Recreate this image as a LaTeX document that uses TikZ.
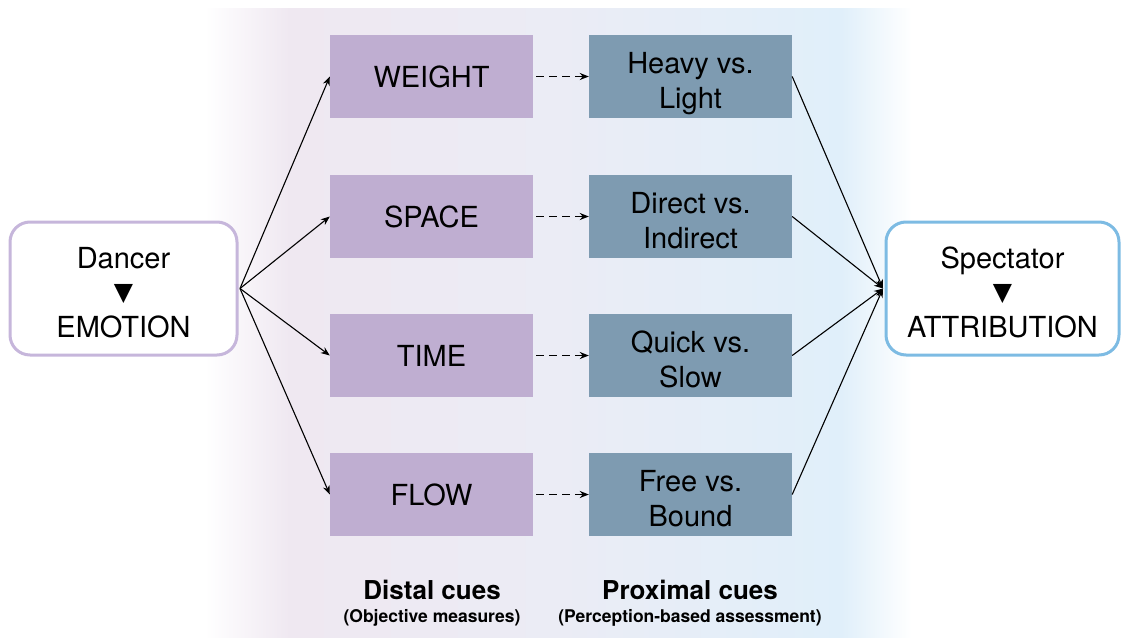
\documentclass[tikz,border=0pt]{standalone}
\usepackage{fontspec}
\setmainfont{TeX Gyre Heros}
\newfontfamily\dvfont{DejaVu Sans}
\usetikzlibrary{arrows.meta}
\definecolor{distalfill}{HTML}{BFAED1}
\definecolor{proxfill}{HTML}{7E9BB1}
\definecolor{leftborder}{HTML}{C6B6DB}
\definecolor{rightborder}{HTML}{7DBBE3}
\definecolor{bgA}{HTML}{EFE8F1}
\definecolor{bgB}{HTML}{EBECF5}
\definecolor{bgC}{HTML}{E0EFFA}
\pgfdeclarehorizontalshading{bgshade}{100bp}{color(0bp)=(white); color(25bp)=(white); color(31bp)=(bgA); color(50bp)=(bgB); color(70bp)=(bgC); color(75bp)=(white); color(100bp)=(white)}
\tikzset{
  base/.style={font=\fontsize{29}{35}\selectfont, align=center, text=black, inner sep=0pt},
  distal/.style={base, fill=distalfill, minimum width=203pt, minimum height=83pt},
  prox/.style={base, fill=proxfill, minimum width=203pt, minimum height=83pt},
  endbox/.style={base, draw, line width=3pt, fill=white, rounded corners=20pt, minimum height=133pt},
  conn/.style={line width=1.1pt, -{Stealth[length=9pt,width=7pt]}},
  dconn/.style={line width=1.4pt, dash pattern=on 8pt off 5pt, -{Stealth[length=9pt,width=7pt]}},
  headlbl/.style={font=\bfseries\fontsize{26}{30}\selectfont, inner sep=0pt},
  sublbl/.style={font=\bfseries\fontsize{17.5}{20}\selectfont, inner sep=0pt}
}
\newcommand{\tri}{{\dvfont\fontsize{25}{35}\selectfont ▼}}
\newcommand{\twolines}[2]{\raisebox{-7pt}[\height][\depth]{\begin{tabular}{@{}c@{}}#1\\#2\end{tabular}}}
\newcommand{\threelines}[3]{\raisebox{-7pt}[\height][\depth]{\begin{tabular}{@{}c@{}}#1\\[-3pt]#2\\[2pt]#3\end{tabular}}}
\begin{document}
\begin{tikzpicture}[x=1pt,y=-1pt]
\useasboundingbox (0,0) rectangle (1121,637);
\shade[shading=bgshade] (205,8) rectangle (912,637);
% end boxes
\node[endbox, draw=leftborder, minimum width=227pt] (dancer) at (123.5,288.5) {\threelines{Dancer}{\tri}{EMOTION}};
\node[endbox, draw=rightborder, minimum width=233pt] (spect) at (1002.5,288.5) {\threelines{Spectator}{\tri}{ATTRIBUTION}};
% distal
\node[distal] (weight) at (431.5,76.5) {WEIGHT};
\node[distal] (space) at (431.5,216.5) {SPACE};
\node[distal] (time) at (431.5,355.5) {TIME};
\node[distal] (flow) at (431.5,494.5) {FLOW};
% proximal
\node[prox] (heavy) at (690.5,76.5) {\twolines{Heavy vs.}{Light}};
\node[prox] (direct) at (690.5,216.5) {\twolines{Direct vs.}{Indirect}};
\node[prox] (quick) at (690.5,355.5) {\twolines{Quick vs.}{Slow}};
\node[prox] (free) at (690.5,494.5) {\twolines{Free vs.}{Bound}};
% connectors
\foreach \d in {weight,space,time,flow}{
  \draw[conn] ([xshift=1.5pt]dancer.east) -- (\d.west);
}
\foreach \d/\p in {weight/heavy,space/direct,time/quick,flow/free}{
  \draw[dconn] ([xshift=3pt]\d.east) -- (\p.west);
  \draw[conn] (\p.east) -- ([xshift=-1.5pt]spect.west);
}
% labels
\node[headlbl] (dlbl) at (432,590) {Distal cues};
\node[sublbl] (dsub) at (432,618) {(Objective measures)};
\node[headlbl] (plbl) at (690,590) {Proximal cues};
\node[sublbl] (psub) at (690,618) {(Perception-based assessment)};
\end{tikzpicture}
\end{document}
